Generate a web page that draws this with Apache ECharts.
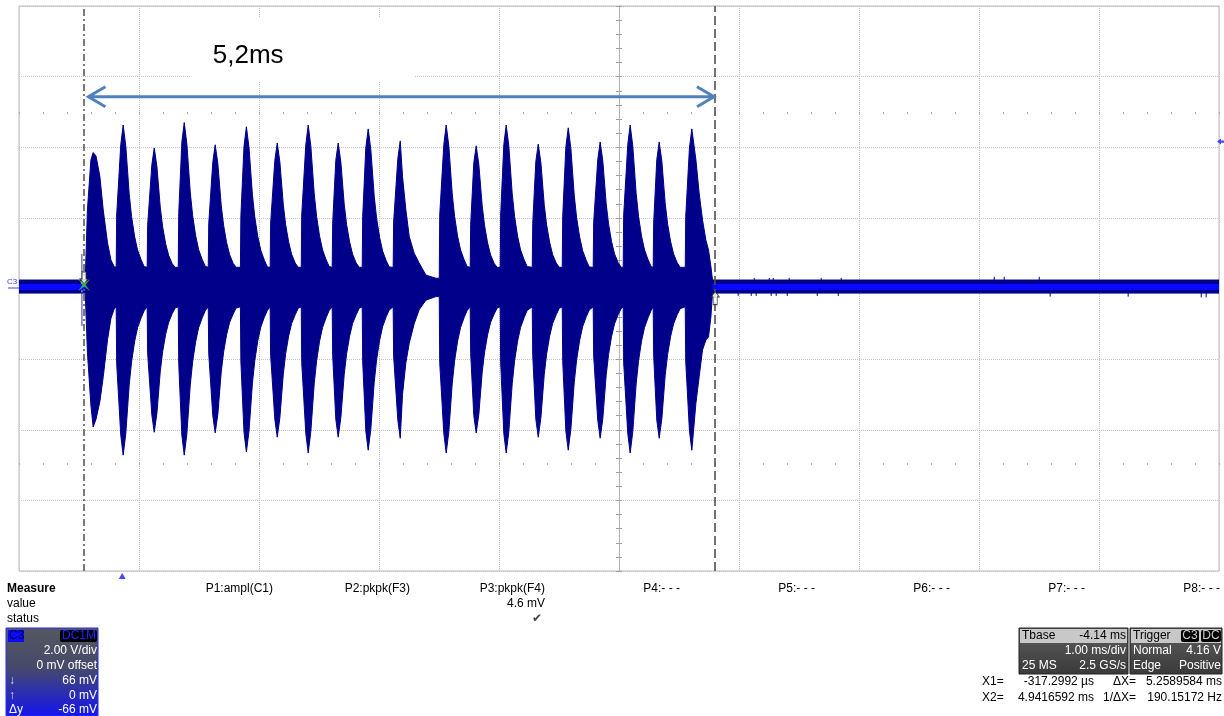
<!DOCTYPE html>
<html><head><meta charset="utf-8">
<script src="https://cdn.jsdelivr.net/npm/echarts@6/dist/echarts.min.js"></script>
<style>html,body{margin:0;padding:0;background:#fff;}#c{width:1224px;height:716px;}</style>
</head><body><div id="c"></div>
<script>
// ---------- scope settings ----------
const timePerDiv = 1.0;       // ms/div
const voltsPerDiv = 2.0;      // V/div
const xMin = -0.86, xMax = 9.14;   // ms (Tbase -4.14 ms, 10 div)
const centreTime = 4.14;
const cursorX1 = -0.3172992, cursorX2 = 4.9416592;
const triggerTime = 0, triggerLevel = 4.16;
const baselineHigh = 0.24, baselineLow = -0.13, baselineMid = 0.04;

// ---------- burst envelopes ----------
const burstTimes = [
 [-0.308,-0.290,-0.261,-0.242,-0.218,-0.186,-0.158,-0.122,-0.094,-0.067],
 [-0.050,-0.046,-0.012,0.008,0.030,0.058,0.078,0.103,0.128,0.158,0.183],
 [0.208,0.212,0.247,0.267,0.289,0.317,0.337,0.362,0.387,0.417,0.442],
 [0.467,0.471,0.497,0.517,0.539,0.567,0.587,0.612,0.637,0.667,0.692],
 [0.717,0.721,0.755,0.775,0.797,0.825,0.845,0.870,0.895,0.925,0.950],
 [0.985,0.989,1.015,1.035,1.057,1.085,1.105,1.130,1.155,1.185,1.210],
 [1.233,1.237,1.272,1.292,1.314,1.342,1.362,1.387,1.412,1.442,1.467],
 [1.492,1.496,1.530,1.550,1.572,1.600,1.620,1.645,1.670,1.700,1.725],
 [1.750,1.754,1.780,1.800,1.822,1.850,1.870,1.895,1.920,1.950,1.975],
 [2.000,2.004,2.030,2.050,2.072,2.100,2.120,2.145,2.170,2.200,2.225],
 [2.258,2.262,2.297,2.317,2.336,2.364,2.392,2.433,2.475,2.531,2.614],
 [2.642,2.646,2.680,2.700,2.722,2.750,2.770,2.795,2.820,2.850,2.875],
 [2.900,2.904,2.930,2.950,2.972,3.000,3.020,3.045,3.070,3.100,3.125],
 [3.150,3.154,3.180,3.200,3.222,3.250,3.270,3.295,3.320,3.350,3.375],
 [3.417,3.421,3.447,3.467,3.489,3.517,3.537,3.562,3.587,3.617,3.642],
 [3.667,3.671,3.697,3.717,3.739,3.767,3.787,3.812,3.837,3.867,3.892],
 [3.925,3.929,3.963,3.983,4.005,4.033,4.053,4.078,4.103,4.133,4.158],
 [4.175,4.179,4.213,4.233,4.255,4.283,4.303,4.328,4.353,4.383,4.408],
 [4.425,4.429,4.455,4.475,4.497,4.525,4.545,4.570,4.595,4.625,4.650],
 [4.692,4.696,4.727,4.747,4.781,4.808,4.836,4.864,4.886,4.906,4.919]
];
const burstHigh = [
 [0.24,2.22,3.64,3.85,3.75,3.17,2.22,1.29,0.81,0.62],
 [0.60,2.08,4.07,4.63,4.03,2.69,2.04,1.48,1.09,0.81,0.62],
 [0.60,1.79,3.50,3.98,3.46,2.31,1.75,1.27,0.94,0.70,0.60],
 [0.60,2.12,4.14,4.70,4.09,2.73,2.07,1.50,1.10,0.82,0.63],
 [0.60,1.83,3.58,4.07,3.54,2.36,1.79,1.30,0.96,0.71,0.60],
 [0.60,2.06,4.03,4.58,3.98,2.66,2.02,1.47,1.08,0.80,0.61],
 [0.60,1.85,3.63,4.12,3.58,2.39,1.81,1.32,0.97,0.72,0.60],
 [0.60,2.08,4.07,4.63,4.03,2.69,2.04,1.48,1.09,0.81,0.62],
 [0.60,1.85,3.63,4.12,3.58,2.39,1.81,1.32,0.97,0.72,0.60],
 [0.60,2.03,3.98,4.52,3.93,2.62,1.99,1.45,1.06,0.79,0.61],
 [0.60,1.88,3.68,4.18,3.17,2.22,1.47,1.00,0.72,0.38,0.29],
 [0.29,2.08,4.07,4.63,4.03,2.69,2.04,1.48,1.09,0.81,0.62],
 [0.60,1.82,3.56,4.04,3.51,2.34,1.78,1.29,0.95,0.71,0.60],
 [0.60,2.08,4.07,4.63,4.03,2.69,2.04,1.48,1.09,0.81,0.62],
 [0.60,1.84,3.60,4.09,3.56,2.37,1.80,1.31,0.96,0.72,0.60],
 [0.60,2.05,4.00,4.55,3.96,2.64,2.00,1.46,1.07,0.80,0.61],
 [0.60,1.87,3.65,4.15,3.61,2.41,1.83,1.33,0.98,0.73,0.60],
 [0.60,2.08,4.07,4.63,4.03,2.69,2.04,1.48,1.09,0.81,0.62],
 [0.60,1.87,3.65,4.15,3.61,2.41,1.83,1.33,0.98,0.73,0.60],
 [0.60,2.03,3.98,4.52,3.64,2.70,1.94,1.37,1.09,0.62,0.24]
];
const burstLow = [
 [-0.13,-1.80,-3.30,-3.92,-3.70,-3.20,-2.50,-1.45,-0.85,-0.58],
 [-0.52,-2.12,-4.15,-4.72,-4.11,-2.74,-2.08,-1.51,-1.11,-0.83,-0.63],
 [-0.52,-1.83,-3.58,-4.07,-3.54,-2.36,-1.79,-1.30,-0.96,-0.71,-0.55],
 [-0.52,-2.12,-4.15,-4.72,-4.11,-2.74,-2.08,-1.51,-1.11,-0.83,-0.63],
 [-0.52,-1.84,-3.60,-4.09,-3.56,-2.37,-1.80,-1.31,-0.96,-0.72,-0.55],
 [-0.52,-2.08,-4.07,-4.63,-4.03,-2.69,-2.04,-1.48,-1.09,-0.81,-0.62],
 [-0.52,-1.89,-3.70,-4.21,-3.66,-2.44,-1.85,-1.35,-0.99,-0.74,-0.56],
 [-0.52,-2.10,-4.10,-4.66,-4.05,-2.70,-2.05,-1.49,-1.10,-0.82,-0.62],
 [-0.52,-1.89,-3.70,-4.21,-3.66,-2.44,-1.85,-1.35,-0.99,-0.74,-0.56],
 [-0.52,-2.06,-4.03,-4.58,-3.98,-2.66,-2.02,-1.47,-1.08,-0.80,-0.61],
 [-0.52,-1.91,-3.73,-4.24,-3.00,-2.10,-1.55,-1.00,-0.60,-0.33,-0.23],
 [-0.23,-2.10,-4.10,-4.66,-4.05,-2.70,-2.05,-1.49,-1.10,-0.82,-0.62],
 [-0.52,-1.84,-3.60,-4.09,-3.56,-2.37,-1.80,-1.31,-0.96,-0.72,-0.55],
 [-0.52,-2.10,-4.10,-4.66,-4.05,-2.70,-2.05,-1.49,-1.10,-0.82,-0.62],
 [-0.52,-1.89,-3.70,-4.21,-3.66,-2.44,-1.85,-1.35,-0.99,-0.74,-0.56],
 [-0.52,-2.06,-4.03,-4.58,-3.98,-2.66,-2.02,-1.47,-1.08,-0.80,-0.61],
 [-0.52,-1.91,-3.73,-4.24,-3.69,-2.46,-1.87,-1.36,-1.00,-0.74,-0.57],
 [-0.52,-2.10,-4.10,-4.66,-4.05,-2.70,-2.05,-1.49,-1.10,-0.82,-0.62],
 [-0.52,-1.91,-3.73,-4.24,-3.69,-2.46,-1.87,-1.36,-1.00,-0.74,-0.57],
 [-0.52,-2.06,-4.03,-4.58,-3.25,-2.50,-1.74,-1.46,-1.37,-0.80,-0.13]
];
// noise spikes on the flat baseline [ms, V]
const noiseSpikes = [[5.133,-0.21],[5.242,-0.21],[5.267,0.30],[5.283,-0.21],[5.392,0.30],[5.408,-0.21],
 [5.425,0.30],[5.45,-0.21],[5.542,-0.21],[5.558,0.30],[5.792,-0.21],[5.825,0.30],[5.967,-0.21],
 [5.992,0.30],[7.267,0.33],[7.35,0.33],[7.642,0.33],[7.733,-0.23],[8.383,-0.23],[8.992,-0.25],[9.033,-0.25]];
const triggerSpike = [[-0.336, 0.98, -1.06]];

// annotation
const arrowSpan = [[-0.29, 4.94, 5.43]];
const annotText = '5,2ms';
const annotPos = [1.05, 6.6];
const annotBox = [0.575, 7.66, 2.433, 5.85];

// measure panel texts
const measureHeads = ['P1:ampl(C1)','P2:pkpk(F3)','P3:pkpk(F4)','P4:- - -','P5:- - -','P6:- - -','P7:- - -','P8:- - -'];
const measureValues = ['','','4.6 mV','','','','',''];
const measureStatus = ['','','\u2714','','','','',''];

// ---------- build ----------
const upper = [[xMin, baselineHigh]], lower = [[xMin, baselineLow]];
burstTimes.forEach((ts, i) => ts.forEach((t, j) => { upper.push([t, burstHigh[i][j]]); lower.push([t, burstLow[i][j]]); }));
upper.push([xMax, baselineHigh]); lower.push([xMax, baselineLow]);
const lastT = burstTimes[burstTimes.length-1].slice(-1)[0];
const firstT = burstTimes[0][0];

const NAVY = '#00008a';
const chart = echarts.init(document.getElementById('c'), null, {renderer:'canvas'});
const FONT = '"Liberation Sans", Arial, sans-serif';
const gridCol = '#c4c4c4';

function txt(text, x, y, opt) {
  opt = opt || {};
  return {type:'text', x:x, y:y, silent:true, z:100, style:{text:text, fill:opt.fill||'#000',
    font:(opt.bold?'bold ':'')+(opt.size||12)+'px '+FONT, textAlign:opt.align||'left', textVerticalAlign:'middle'}};
}
const graphics = [];
graphics.push(txt('Measure',7,589,{bold:true}), txt('value',7,604), txt('status',7,619));
const colRight = [273,410,545,680,815,950,1085,1220];
measureHeads.forEach((h,i)=>{
  graphics.push(txt(h,colRight[i],589,{align:'right'}));
  if (measureValues[i]) graphics.push(txt(measureValues[i],colRight[i],604,{align:'right'}));
  if (measureStatus[i]) graphics.push({type:'text',x:colRight[i]-3,y:619,z:100,style:{text:measureStatus[i],fill:'#444',font:'12px "DejaVu Sans"',textAlign:'right',textVerticalAlign:'middle'}});
});
// channel descriptor box
graphics.push({type:'rect', shape:{x:6,y:628,width:92,height:88}, z:90,
  style:{fill:new echarts.graphic.LinearGradient(0,0,0,1,[{offset:0,color:'#55585f'},{offset:0.45,color:'#454a6a'},{offset:1,color:'#1414f0'}]), stroke:'#2a2aff', lineWidth:1}});
graphics.push({type:'rect', shape:{x:8,y:630,width:16,height:12}, z:95, style:{fill:'#0a0aff'}});
graphics.push(txt('C3',9,636,{fill:'#000040'}));
graphics.push({type:'rect', shape:{x:60,y:630,width:37,height:12,r:2}, z:95, style:{fill:'#000'}});
graphics.push(txt('DC1M',96,636,{fill:'#2020ff',align:'right'}));
graphics.push(txt('2.00 V/div',97,651,{fill:'#fff',align:'right'}));
graphics.push(txt('0 mV offset',97,666,{fill:'#fff',align:'right'}));
graphics.push(txt('66 mV',97,681,{fill:'#fff',align:'right'}));
graphics.push(txt('0 mV',97,696,{fill:'#fff',align:'right'}));
graphics.push(txt('-66 mV',97,710,{fill:'#fff',align:'right'}));
graphics.push(txt('\u2193',9,681,{fill:'#ddd'}), txt('\u2191',9,696,{fill:'#ddd'}), txt('\u0394y',9,710,{fill:'#fff'}));
// timebase box
graphics.push({type:'rect', shape:{x:1019,y:628,width:109,height:46}, z:90,
  style:{fill:new echarts.graphic.LinearGradient(0,0,0,1,[{offset:0,color:'#5e5e5e'},{offset:1,color:'#3a3a3a'}]), stroke:'#222', lineWidth:1}});
graphics.push({type:'rect', shape:{x:1020,y:629,width:107,height:14}, z:91, style:{fill:'#c8c8c8'}});
graphics.push(txt('Tbase',1022,636,{fill:'#000'}), txt('-4.14 ms',1126,636,{fill:'#000',align:'right'}));
graphics.push(txt('1.00 ms/div',1126,651,{fill:'#fff',align:'right'}));
graphics.push(txt('25 MS',1022,666,{fill:'#fff'}), txt('2.5 GS/s',1126,666,{fill:'#fff',align:'right'}));
// trigger box
graphics.push({type:'rect', shape:{x:1130,y:628,width:92,height:46}, z:90,
  style:{fill:new echarts.graphic.LinearGradient(0,0,0,1,[{offset:0,color:'#5e5e5e'},{offset:1,color:'#3a3a3a'}]), stroke:'#222', lineWidth:1}});
graphics.push({type:'rect', shape:{x:1131,y:629,width:90,height:14}, z:91, style:{fill:'#c8c8c8'}});
graphics.push(txt('Trigger',1133,636,{fill:'#000'}));
graphics.push({type:'rect', shape:{x:1181,y:630,width:18,height:12,r:2}, z:95, style:{fill:'#000'}});
graphics.push({type:'rect', shape:{x:1201,y:630,width:20,height:12,r:2}, z:95, style:{fill:'#000'}});
graphics.push(txt('C3',1190,636,{fill:'#ccc',align:'center'}), txt('DC',1211,636,{fill:'#ccc',align:'center'}));
graphics.push(txt('Normal',1133,651,{fill:'#fff'}), txt('4.16 V',1221,651,{fill:'#fff',align:'right'}));
graphics.push(txt('Edge',1133,666,{fill:'#fff'}), txt('Positive',1221,666,{fill:'#fff',align:'right'}));
// cursor readouts
graphics.push(txt('X1=',982,682), txt('-317.2992 \u00b5s',1094,682,{align:'right'}), txt('\u0394X=',1136,682,{align:'right'}), txt('5.2589584 ms',1222,682,{align:'right'}));
graphics.push(txt('X2=',982,698), txt('4.9416592 ms',1094,698,{align:'right'}), txt('1/\u0394X=',1136,698,{align:'right'}), txt('190.15172 Hz',1222,698,{align:'right'}));
// C3 label on left
graphics.push({type:'text', x:7, y:282, z:100, style:{text:'C3', fill:'#3a3aff', font:'8px '+FONT, textVerticalAlign:'middle'}});
graphics.push({type:'line', shape:{x1:8,y1:288,x2:19,y2:288}, z:100, style:{stroke:'#3a3aff', lineWidth:1}});

const option = {
  animation:false,
  backgroundColor:'#fff',
  grid:{left:19, top:6, width:1200, height:565, show:true, borderColor:'#b8b8b8', borderWidth:1, backgroundColor:'#fff'},
  xAxis:[
    {type:'value', min:xMin, max:xMax, show:false},
    {type:'value', min:0, max:10, interval:1, axisLine:{show:false}, axisTick:{show:false}, axisLabel:{show:false},
     splitLine:{show:true, lineStyle:{color:gridCol, type:[1,1], width:1}}},
    {type:'value', min:-5, max:5, show:false},
    {type:'value', position:'top', offset:-106, min:0, max:10, interval:0.2, axisLine:{show:false}, axisLabel:{show:false},
     splitLine:{show:false}, axisTick:{show:true, inside:true, length:2, lineStyle:{color:'#a8a8a8'}}},
    {type:'value', position:'bottom', offset:-106, min:0, max:10, interval:0.2, axisLine:{show:false}, axisLabel:{show:false},
     splitLine:{show:false}, axisTick:{show:true, inside:true, length:2, lineStyle:{color:'#a8a8a8'}}}
  ],
  yAxis:[
    {type:'value', min:-8, max:8, interval:voltsPerDiv, axisLine:{show:false}, axisTick:{show:false}, axisLabel:{show:false},
     splitLine:{show:true, lineStyle:{color:gridCol, type:[1,1], width:1}}},
    {type:'value', min:-8, max:8, interval:0.4, axisLabel:{show:false}, splitLine:{show:false},
     axisLine:{show:true, onZero:true, onZeroAxisIndex:2, lineStyle:{color:'#b4b4b4'}}, axisTick:{show:true, inside:true, length:3, lineStyle:{color:'#a0a0a0'}}},
    {type:'value', min:-8, max:8, interval:0.4, axisLabel:{show:false}, splitLine:{show:false},
     axisLine:{show:true, onZero:true, onZeroAxisIndex:2, lineStyle:{color:'#b4b4b4'}}, axisTick:{show:true, inside:false, length:3, lineStyle:{color:'#a0a0a0'}}}
  ],
  series:[
    {type:'line', name:'upper', data:upper, showSymbol:false, symbol:'none', z:3,
     lineStyle:{color:NAVY, width:1}, areaStyle:{color:NAVY, opacity:1, origin:baselineLow}},
    {type:'line', name:'lower', data:lower, showSymbol:false, symbol:'none', z:3,
     lineStyle:{color:NAVY, width:1}, areaStyle:{color:NAVY, opacity:1, origin:baselineHigh}},
    {type:'line', name:'bright1', data:[[xMin, baselineMid],[firstT, baselineMid]], symbol:'none', z:4,
     lineStyle:{color:'#0808ff', width:6}},
    {type:'line', name:'bright2', data:[[lastT, baselineMid],[xMax, baselineMid]], symbol:'none', z:4,
     lineStyle:{color:'#0808ff', width:6}},
    {type:'custom', name:'spikes', data:noiseSpikes, z:3,
     renderItem:(p,api)=>{const a=api.coord([api.value(0),0]), b=api.coord([api.value(0),api.value(1)]);
       return {type:'line', shape:{x1:a[0],y1:a[1],x2:b[0],y2:b[1]}, style:{stroke:NAVY, lineWidth:1}};}},
    {type:'custom', name:'trigSpike', data:triggerSpike, z:3,
     renderItem:(p,api)=>{const a=api.coord([api.value(0),api.value(1)]), b=api.coord([api.value(0),api.value(2)]);
       return {type:'line', shape:{x1:a[0],y1:a[1],x2:b[0],y2:b[1]}, style:{stroke:'#7a7ac8', lineWidth:1.5}};}},
    {type:'line', name:'cursors', data:[], z:6,
     markLine:{silent:true, symbol:'none', label:{show:false}, animation:false,
       data:[{xAxis:cursorX1, lineStyle:{color:'#5a5a5a', width:1.6, type:[7,3,2,3]}},
             {xAxis:cursorX2, lineStyle:{color:'#505050', width:1.6, type:[9,4]}}]}},
    {type:'custom', name:'box', data:[annotBox], z:5,
     renderItem:(p,api)=>{const a=api.coord([api.value(0),api.value(1)]), b=api.coord([api.value(2),api.value(3)]);
       return {type:'rect', shape:{x:a[0],y:a[1],width:b[0]-a[0],height:b[1]-a[1]}, style:{fill:'#fff'}};}},
    {type:'custom', name:'label', data:[annotPos], z:7,
     renderItem:(p,api)=>{const a=api.coord([api.value(0),api.value(1)]);
       return {type:'text', x:a[0], y:a[1], style:{text:annotText, fill:'#000', font:'26px '+FONT, textAlign:'center', textVerticalAlign:'middle'}};}},
    {type:'custom', name:'arrow', data:arrowSpan, z:7,
     renderItem:(p,api)=>{const a=api.coord([api.value(0),api.value(2)]), b=api.coord([api.value(1),api.value(2)]);
       const st={stroke:'#4f81bd', lineWidth:3, fill:null, lineJoin:'miter'};
       return {type:'group', children:[
         {type:'line', shape:{x1:a[0]+1,y1:a[1],x2:b[0]-1,y2:b[1]}, style:st},
         {type:'polyline', shape:{points:[[a[0]+18,a[1]-10],[a[0]+1,a[1]],[a[0]+18,a[1]+10]]}, style:st},
         {type:'polyline', shape:{points:[[b[0]-18,b[1]-10],[b[0]-1,b[1]],[b[0]-18,b[1]+10]]}, style:st}]};}},
    {type:'scatter', name:'x1arrow', data:[[cursorX1, 0.1]], z:8, symbol:'path://M2,0 L6,0 L6,7 L8,7 L4,12 L0,7 L2,7 Z', symbolSize:[8,12], symbolOffset:[0,-7],
     itemStyle:{color:'#fff', borderColor:'#222', borderWidth:1}, silent:true},
    {type:'scatter', name:'x1mark', data:[[cursorX1, 0.1]], z:9, symbol:'path://M0,0 L4,3 L8,0 L5,4 L8,8 L4,5 L0,8 L3,4 Z', symbolSize:12,
     itemStyle:{color:'#33e033'}, silent:true},
    {type:'scatter', name:'x2mark', data:[[cursorX2, -0.1]], z:8, symbol:'path://M4,0 L8,5 L6,5 L6,12 L2,12 L2,5 L0,5 Z', symbolSize:[8,13], symbolOffset:[0,6],
     itemStyle:{color:'#fff', borderColor:'#222', borderWidth:1}, silent:true},
    {type:'scatter', name:'trigLevel', data:[[xMax, triggerLevel]], z:8, clip:false, symbol:'path://M0,5 L5,0 L5,3 L10,3 L10,7 L5,7 L5,10 Z', symbolSize:[8,6], symbolOffset:[2,0],
     itemStyle:{color:'#1a1aff'}, silent:true},
    {type:'scatter', name:'trigTime', data:[[triggerTime, -8]], z:8, clip:false, symbol:'triangle', symbolSize:[7,6], symbolOffset:[0,5],
     itemStyle:{color:'#1a1aff'}, silent:true}
  ],
  graphic:graphics
};
chart.setOption(option);
</script></body></html>
